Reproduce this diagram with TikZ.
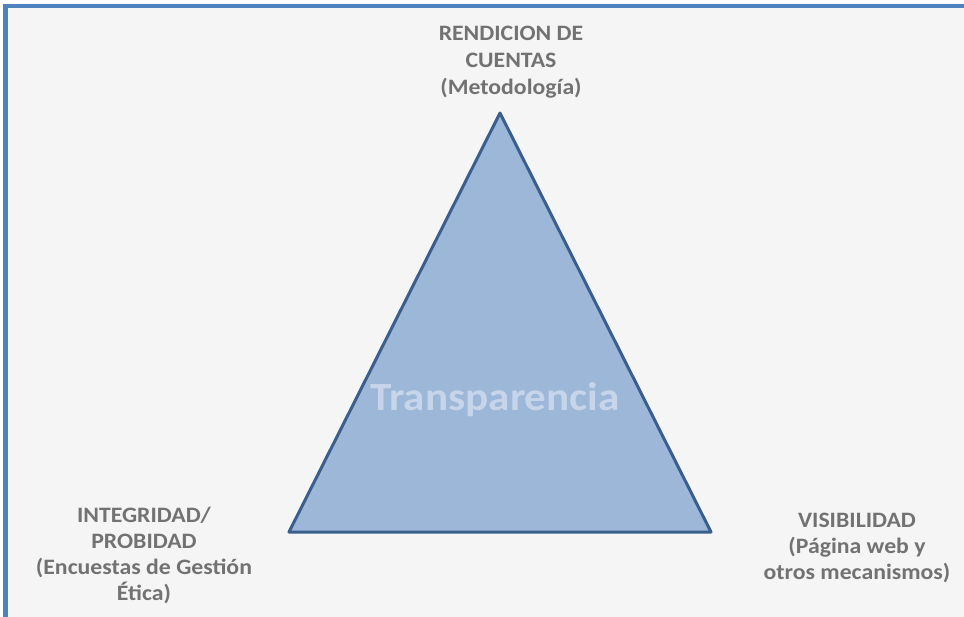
\documentclass[tikz,border=0pt]{standalone}
\usepackage{fontspec}
\setmainfont{Carlito}[FakeStretch=1.08]
\definecolor{frameblue}{HTML}{4F81BD}
\definecolor{paper}{HTML}{F5F5F5}
\definecolor{trifill}{HTML}{9DB7D9}
\definecolor{triline}{HTML}{3A5F8F}
\definecolor{labelgray}{HTML}{727272}
\definecolor{centertext}{HTML}{C6D5E9}

\begin{document}
\begin{tikzpicture}[x=1pt,y=-1pt,
    cornerlabel/.style={align=center, inner sep=0pt, anchor=north, text=labelgray,
      font=\bfseries\fontsize{22}{26}\selectfont}]
    \clip (0,0) rectangle (964,616);
    % background and frame
    \fill[white] (0,0) rectangle (964,616);
    \draw[frameblue, line width=4.5pt, fill=paper] (5.5,6) rectangle (990,640);

    \coordinate (apex) at (500,113);
    \coordinate (left) at (289,532);
    \coordinate (right) at (711,532);
    \draw[triline, line width=3pt, line join=round, fill=trifill] (apex) -- (left) -- (right) -- cycle;

    \node[anchor=base, inner sep=0pt, text=centertext, font=\bfseries\fontsize{40}{48}\selectfont] (center) at (495,410) {Transparencia};

    \node[cornerlabel, font=\bfseries\fontsize{22}{27}\selectfont] (top) at (511,26) {RENDICION DE\\CUENTAS\\(Metodología)};
    \node[cornerlabel] (integ) at (144,507) {INTEGRIDAD/\\PROBIDAD\\(Encuestas de Gestión\\Ética)};
    \node[cornerlabel] (visib) at (857,513) {VISIBILIDAD\\(Página web y\\otros mecanismos)};
\end{tikzpicture}
\end{document}
